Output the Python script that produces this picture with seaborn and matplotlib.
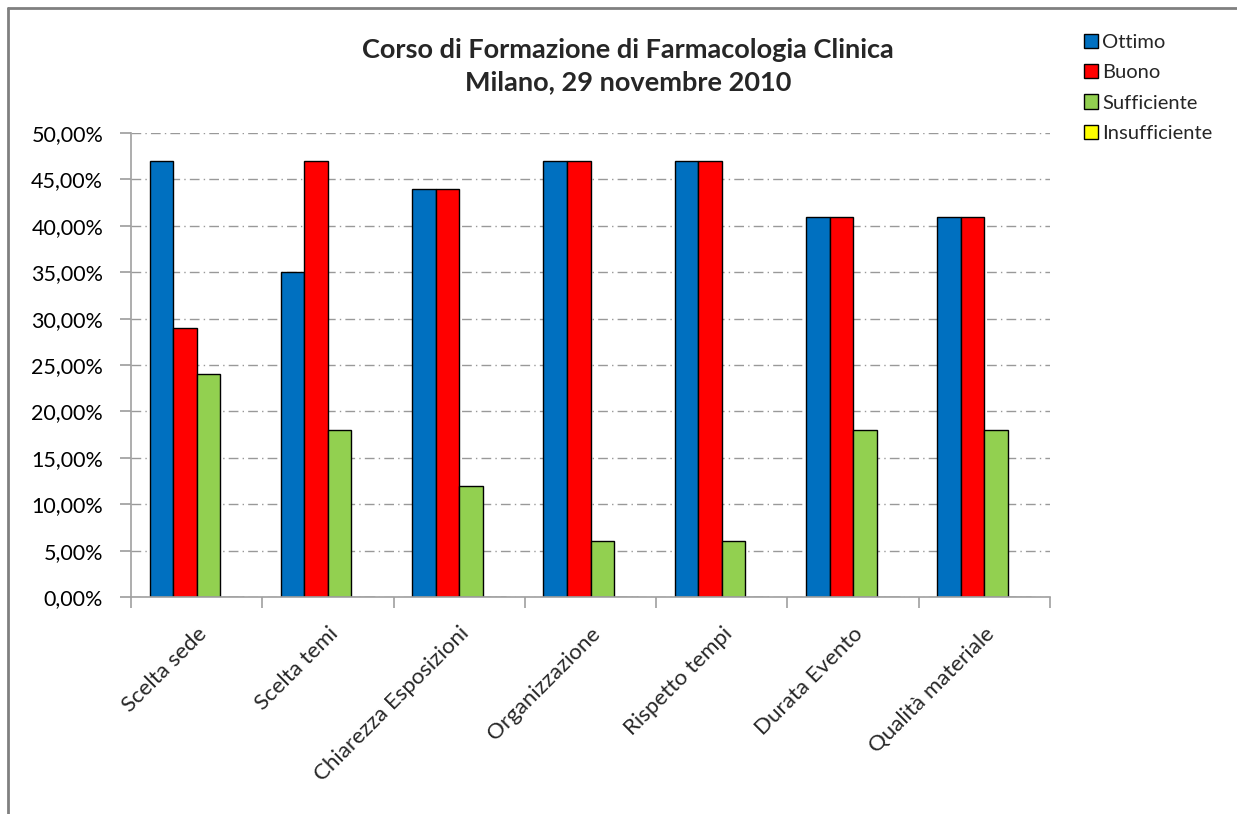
import matplotlib
matplotlib.use("Agg")
import matplotlib.pyplot as plt
import seaborn as sns
import pandas as pd
from matplotlib.ticker import FuncFormatter, FixedLocator
from matplotlib.lines import Line2D

categories = ["Scelta sede", "Scelta temi", "Chiarezza Esposizioni", "Organizzazione",
              "Rispetto tempi", "Durata Evento", "Qualità materiale"]
series_names = ["Ottimo", "Buono", "Sufficiente", "Insufficiente"]
ottimo = [47, 35, 44, 47, 47, 41, 41]
buono = [29, 47, 44, 47, 47, 41, 41]
sufficiente = [24, 18, 12, 6, 6, 18, 18]
insufficiente = [0, 0, 0, 0, 0, 0, 0]
colors = ["#0070C0", "#FF0000", "#92D050", "#FFFF00"]
title = "Corso di Formazione di Farmacologia Clinica\nMilano, 29 novembre 2010"

rows = []
for name, vals in zip(series_names, [ottimo, buono, sufficiente, insufficiente]):
    for c, v in zip(categories, vals):
        rows.append({"cat": c, "serie": name, "val": v})
df = pd.DataFrame(rows)

sns.set_theme(style="white")
plt.rcParams["font.family"] = ["Lato", "DejaVu Sans"]

fig = plt.figure(figsize=(12.37, 8.14), dpi=100)
ax = fig.add_axes([131/1237, 1-597/814, (1050-131)/1237, (597-133)/814])

sns.barplot(data=df, x="cat", y="val", hue="serie", hue_order=series_names,
            palette=colors, width=0.716, edgecolor="black", linewidth=1.0,
            ax=ax, legend=False, gap=0, saturation=1)

ax.set_ylim(0, 50)
ax.set_xlim(-0.5, len(categories) - 0.5)
ax.set_yticks(range(0, 51, 5))
ax.yaxis.set_major_formatter(FuncFormatter(lambda v, p: f"{v:.2f}%".replace(".", ",")))
ax.grid(axis="y", color="#999999", linestyle=(0, (7, 3, 1, 3)), linewidth=1)
ax.set_axisbelow(True)
ax.set_xlabel("")
ax.set_ylabel("")

for s in ["top", "right"]:
    ax.spines[s].set_visible(False)
for s in ["left", "bottom"]:
    ax.spines[s].set_color("#A0A0A0")
    ax.spines[s].set_linewidth(1.2)

ax.tick_params(axis="y", which="both", left=True, length=8, color="#A0A0A0",
               labelsize=15.5, pad=12, labelcolor="#000000")
ax.set_xticks(range(len(categories)))
ax.set_xticklabels(categories, rotation=45, ha="right", va="top",
                   rotation_mode="anchor", fontsize=16)
ax.tick_params(axis="x", which="major", length=0, pad=19)
ax.xaxis.set_minor_locator(FixedLocator([i - 0.5 for i in range(len(categories) + 1)]))
ax.tick_params(axis="x", which="minor", bottom=True, length=8, color="#A0A0A0", width=1.2)

fig.text(628/1237, 1-66/814, title, ha="center", va="center", fontsize=19.5,
         fontweight="bold", linespacing=1.45)

handles = [plt.Rectangle((0, 0), 1, 1, facecolor=c, edgecolor="black", linewidth=1)
           for c in colors]
fig.legend(handles, series_names, loc="upper left", bbox_to_anchor=(1076/1237, 1-26/814),
           frameon=False, fontsize=14.5, handlelength=0.7, handleheight=0.7,
           handletextpad=0.2, labelspacing=0.65, borderaxespad=0)

fig.add_artist(Line2D([8/1237, 8/1237], [0, 1-8/814], transform=fig.transFigure,
                      color="#808080", linewidth=2))
fig.add_artist(Line2D([8/1237, 1], [1-8/814, 1-8/814], transform=fig.transFigure,
                      color="#808080", linewidth=2))

fig.savefig("out.png", dpi=100, facecolor="white")
